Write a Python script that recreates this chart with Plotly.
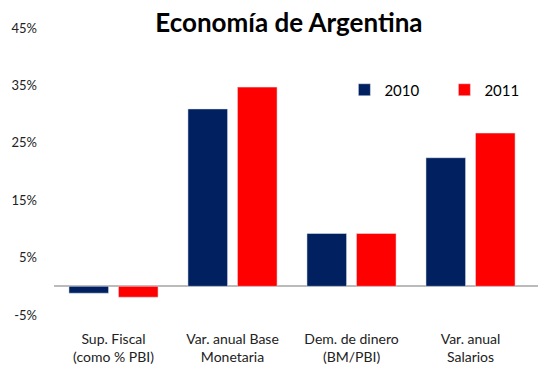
import plotly.graph_objects as go

categories = ["Sup. Fiscal<br>(como % PBI)", "Var. anual Base<br>Monetaria",
              "Dem. de dinero<br>(BM/PBI)", "Var. anual<br>Salarios"]
values_2010 = [-1.2, 30.9, 9.2, 22.4]
values_2011 = [-1.9, 34.7, 9.2, 26.7]
tick_vals = [-5, 5, 15, 25, 35, 45]
tick_text = ["-5%", "5%", "15%", "25%", "35%", "45%"]

FONT = "Lato, 'Open Sans', sans-serif"

fig = go.Figure()
fig.add_trace(go.Bar(name="2010", x=list(range(4)), y=values_2010, marker_color="#002060"))
fig.add_trace(go.Bar(name="2011", x=list(range(4)), y=values_2011, marker_color="#FF0000"))

fig.update_layout(
    width=538, height=367,
    margin=dict(l=54, r=0, t=28, b=52, autoexpand=False),
    paper_bgcolor="white", plot_bgcolor="white",
    barmode="group", bargap=0.168, bargroupgap=0.2,
    font=dict(family=FONT, size=13, color="#222"),
    title=dict(text="<b>Economía de Argentina</b>", x=0.537, xanchor="center",
               y=0.937, yanchor="middle", font=dict(family=FONT, size=26, color="black")),
    legend=dict(orientation="h", x=0.6, y=0.784, xanchor="left", yanchor="middle",
                entrywidth=55, entrywidthmode="pixels", itemwidth=30,
                font=dict(family=FONT, size=15, color="black"), bgcolor="rgba(0,0,0,0)"),
    showlegend=True,
)
fig.update_xaxes(range=[-0.5, 3.567], tickvals=list(range(4)), ticktext=categories,
                 tickangle=0, automargin=False,
                 showgrid=False, showline=False, zeroline=False, ticks="",
                 ticklabelstandoff=14, tickfont=dict(size=14, color="#222"))
fig.update_yaxes(range=[-5, 45], tickvals=tick_vals, ticktext=tick_text, automargin=False,
                 showgrid=False, showline=False, zeroline=True, zerolinecolor="#BBBBBB",
                 zerolinewidth=1.5, ticks="", ticklabelstandoff=16,
                 tickfont=dict(size=13, color="#222"))

fig.write_html("out.html")
